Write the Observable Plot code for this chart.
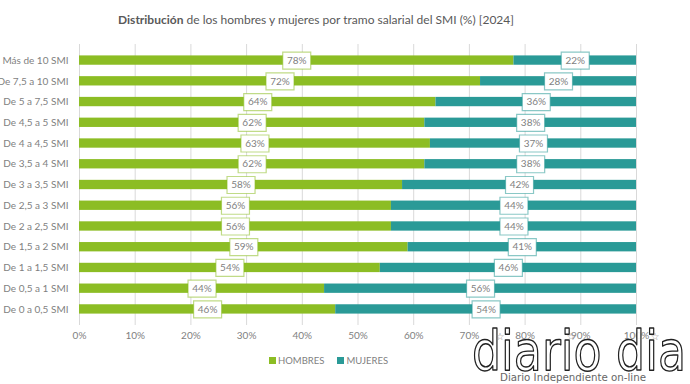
<!DOCTYPE html>
<html><head><meta charset="utf-8">
<script src="https://cdn.jsdelivr.net/npm/d3@7"></script>
<script src="https://cdn.jsdelivr.net/npm/@observablehq/plot@0.6"></script>
<style>
body{margin:0;background:#fff;font-family:Lato,sans-serif;}
#wrap{position:relative;width:690px;height:384px;overflow:hidden;background:#fff;}
#title{position:absolute;top:12px;left:0;width:632px;text-align:center;font-size:12px;color:#595959;white-space:nowrap;}
#chart{position:absolute;top:36px;left:0;}
#legend{position:absolute;top:355px;left:269px;font-size:9.5px;color:#7f7f7f;display:flex;align-items:center;white-space:nowrap;}
#legend .sw{width:7px;height:7px;display:inline-block;margin-right:2px;}
#legend .it{display:flex;align-items:center;margin-right:13px;}
#wm{position:absolute;left:0;top:0;pointer-events:none;}
</style></head>
<body>
<div id="wrap">
  <div id="title"><b>Distribución</b> de los hombres y mujeres por tramo salarial del SMI (%) [2024]</div>
  <div id="chart"></div>
  <div id="legend"></div>
  <svg id="wm" width="690" height="384">
    <g transform="translate(472,370) scale(1,1.3)">
      <text x="0" y="0" textLength="214" lengthAdjust="spacingAndGlyphs" font-family="DejaVu Sans" font-size="42" fill="#fff" fill-opacity="0.92" stroke="#222" stroke-width="1.1" stroke-linejoin="round">diario dia</text>
    </g>
    <text x="500" y="381" font-family="DejaVu Sans" font-size="11" fill="#666" textLength="146" lengthAdjust="spacingAndGlyphs">Diario Independiente on-line</text>
    <g font-family="DejaVu Sans" font-size="10" fill="#888">
      <text x="500" y="340" text-anchor="middle">☆</text>
      <text x="571" y="340" text-anchor="middle">☆</text>
      <text x="655" y="340" text-anchor="middle">☆</text>
    </g>
  </svg>
</div>
<script>
const categories = ["Más de 10 SMI","De 7,5 a 10 SMI","De 5 a 7,5 SMI","De 4,5 a 5 SMI","De 4 a 4,5 SMI","De 3,5 a 4 SMI","De 3 a 3,5 SMI","De 2,5 a 3 SMI","De 2 a 2,5 SMI","De 1,5 a 2 SMI","De 1 a 1,5 SMI","De 0,5 a 1 SMI","De 0 a 0,5 SMI"];
const hombres = [78,72,64,62,63,62,58,56,56,59,54,44,46];
const mujeres = [22,28,36,38,37,38,42,44,44,41,46,56,54];
const series = ["HOMBRES","MUJERES"];
const colors = ["#8cbd24","#2a9a97"];
const xTicks = [0,10,20,30,40,50,60,70,80,90,100];

const rows = categories.flatMap((c,i)=>[
  {cat:c, sex:series[0], value:hombres[i]},
  {cat:c, sex:series[1], value:mujeres[i]}
]);

const boxSymbol = {draw(ctx){ ctx.rect(-14,-8.5,28,17); }};

const chart = Plot.plot({
  width:690, height:310,
  marginLeft:79, marginRight:54, marginTop:8, marginBottom:21,
  x:{domain:[0,100], ticks:xTicks, tickFormat:d=>d+"%", label:null, tickSize:0, tickPadding:6},
  y:{domain:categories, padding:0.55, round:false, label:null, tickSize:0, tickPadding:11},
  color:{domain:series, range:colors},
  style:{fontFamily:"Lato, sans-serif", fontSize:"10px", color:"#7f7f7f", background:"transparent"},
  marks:[
    Plot.ruleX(xTicks, {stroke:"#d9d9d9", strokeWidth:1}),
    Plot.barX(rows, Plot.stackX({x:"value", y:"cat", z:"sex", fill:"sex"})),
    Plot.dot(rows, Plot.stackX({x:"value", y:"cat", z:"sex", symbol:boxSymbol, r:5, fill:"white", stroke:"sex", strokeOpacity:0.55, strokeWidth:1.2})),
    Plot.text(rows, Plot.stackX({x:"value", y:"cat", z:"sex", text:d=>d.value+"%", fill:"#7f7f7f", fontSize:10}))
  ]
});
document.getElementById("chart").appendChild(chart);

const lg = document.getElementById("legend");
series.forEach((s,i)=>{
  const it = document.createElement("span"); it.className="it";
  const sw = document.createElement("span"); sw.className="sw"; sw.style.background=colors[i];
  it.appendChild(sw); it.appendChild(document.createTextNode(s));
  lg.appendChild(it);
});
</script>
</body></html>
